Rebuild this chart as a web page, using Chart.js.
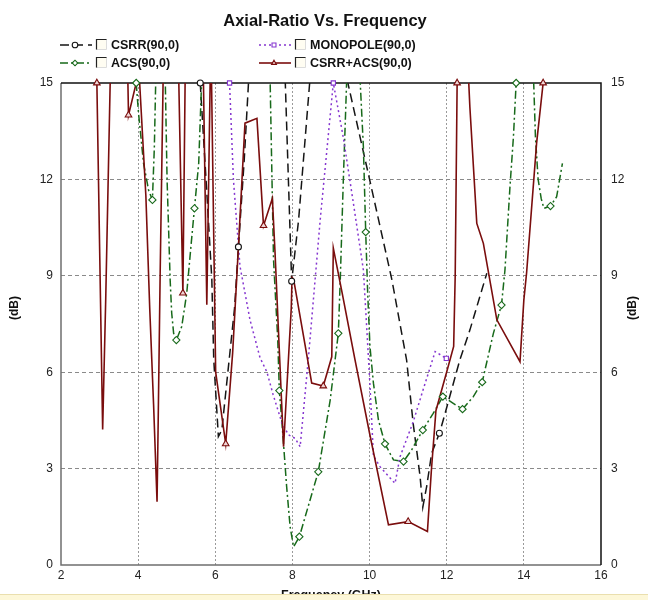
<!DOCTYPE html>
<html><head><meta charset="utf-8">
<script src="https://cdn.jsdelivr.net/npm/chart.js@4.4.0/dist/chart.umd.min.js"></script>
<style>html,body{margin:0;padding:0;background:#fff;}#wrap{width:648px;height:600px;position:relative;}</style>
</head><body><div id="wrap"><canvas id="c" width="648" height="600"></canvas></div>
<script>
// ---------------- data (frequency in GHz, axial ratio in dB) ----------------
const xTicks = [2, 4, 6, 8, 10, 12, 14, 16];
const yTicks = [0, 3, 6, 9, 12, 15];

const csrrFreq = [5.61, 5.78, 5.91, 5.96, 6.08, 6.17, 6.30, 6.50, 6.60, 6.75, 6.87, 7.30, 7.81, 7.98, 8.16, 8.46, 8.90, 9.40, 10.00, 10.58, 10.96, 11.13, 11.31, 11.38, 11.48, 11.61, 11.81, 11.91, 12.34, 12.60, 13.04];
const csrrAR   = [15.0, 11.6, 8.9, 6.4, 4.0, 4.2, 5.7, 8.0, 9.9, 12.6, 15.2, 17.0, 15.2, 8.83, 10.74, 15.2, 17.0, 15.2, 12.0, 8.87, 6.38, 4.41, 2.75, 1.8, 2.44, 3.48, 4.1, 4.51, 6.38, 7.31, 9.08];
const csrrMarks = [5.61, 6.60, 7.98, 11.81];

const monoFreq = [6.37, 6.47, 6.64, 6.90, 7.16, 7.34, 7.50, 7.73, 7.90, 8.07, 8.20, 8.41, 8.72, 9.06, 9.32, 9.58, 9.84, 9.93, 10.01, 10.10, 10.27, 10.66, 10.79, 11.13, 11.40, 11.70, 11.99];
const monoAR   = [15.0, 12.0, 9.3, 7.63, 6.45, 6.0, 5.3, 4.41, 4.05, 3.94, 3.68, 6.38, 10.74, 15.0, 13.3, 11.26, 9.18, 7.3, 5.6, 3.4, 3.06, 2.54, 3.37, 4.45, 5.5, 6.64, 6.43];
const monoMarks = [6.37, 9.06, 11.99];

const acsFreq = [3.95, 4.01, 4.14, 4.27, 4.37, 4.42, 4.46, 4.58, 4.70, 4.75, 4.83, 4.87, 4.92, 4.99, 5.13, 5.26, 5.36, 5.46, 5.57, 5.65, 6.50, 7.42, 7.47, 7.51, 7.62, 7.66, 7.73, 7.85, 7.94, 8.03, 8.18, 8.67, 8.98, 9.19, 9.24, 9.32, 9.41, 9.58, 9.75, 9.84, 9.90, 9.95, 10.01, 10.10, 10.23, 10.40, 10.62, 10.88, 11.09, 11.38, 11.65, 11.90, 12.17, 12.41, 12.69, 12.92, 13.21, 13.42, 13.51, 13.64, 13.73, 13.80, 14.02, 14.25, 14.30, 14.37, 14.45, 14.52, 14.69, 14.85, 15.00];
const acsAR   = [15.0, 14.06, 12.5, 11.67, 11.36, 13.0, 15.3, 17.0, 15.3, 12.0, 8.87, 7.84, 7.21, 7.0, 7.42, 8.46, 9.8, 11.1, 12.5, 15.2, 18.0, 15.2, 12.0, 9.5, 7.0, 5.43, 4.41, 2.44, 1.19, 0.57, 0.88, 2.9, 5.14, 7.21, 8.87, 12.0, 15.2, 16.5, 15.2, 13.0, 10.36, 8.5, 6.8, 5.66, 4.51, 3.77, 3.27, 3.22, 3.58, 4.2, 4.72, 5.24, 5.03, 4.85, 5.24, 5.69, 7.21, 8.09, 9.18, 11.77, 13.33, 15.0, 17.0, 15.2, 13.33, 12.0, 11.4, 11.1, 11.17, 11.46, 12.5];
const acsMarks = [3.95, 4.37, 4.99, 5.46, 7.66, 8.18, 8.67, 9.19, 9.90, 10.40, 10.88, 11.38, 11.90, 12.41, 12.92, 13.42, 13.80, 14.69];

const comboFreq = [2.93, 3.08, 3.16, 3.28, 3.50, 3.73, 3.75, 3.95, 3.99, 4.03, 4.20, 4.30, 4.40, 4.49, 4.52, 4.57, 4.65, 4.85, 5.05, 5.16, 5.22, 5.45, 5.69, 5.78, 5.87, 5.90, 6.01, 6.27, 6.45, 6.60, 6.77, 7.08, 7.25, 7.48, 7.55, 7.63, 7.77, 7.97, 7.99, 8.03, 8.50, 8.80, 9.02, 9.06, 9.30, 9.62, 10.00, 10.49, 11.00, 11.50, 11.60, 11.72, 11.99, 12.18, 12.22, 12.27, 12.40, 12.56, 12.60, 12.78, 12.95, 13.30, 13.90, 14.00, 14.07, 14.33, 14.50];
const comboAR   = [15.0, 4.22, 8.3, 15.3, 17, 15.3, 14.0, 15.0, 15.3, 15.2, 11.5, 8.0, 5.0, 1.97, 4.5, 9.0, 15.3, 18, 15.3, 8.46, 15.3, 18, 15.3, 8.1, 15.3, 15.3, 6.0, 3.77, 6.6, 9.9, 13.75, 13.9, 10.56, 11.41, 9.7, 7.5, 3.68, 8.0, 8.95, 8.9, 5.66, 5.57, 6.48, 9.86, 8.4, 6.4, 4.1, 1.25, 1.35, 1.04, 2.9, 4.8, 5.97, 6.8, 9.0, 15.0, 17, 15.3, 14.26, 10.63, 10.01, 7.63, 6.33, 8.25, 9.08, 13.12, 15.0];
const comboMarks = [2.93, 3.75, 5.16, 6.27, 7.25, 8.80, 11.00, 12.27, 14.50];

const seriesNames = ['CSRR(90,0)', 'ACS(90,0)', 'MONOPOLE(90,0)', 'CSRR+ACS(90,0)'];
const yMax = 15;

// ---------------- helpers ----------------
const FONT = "'Liberation Sans', Arial, sans-serif";
function pts(xs, ys) { return xs.map((x, i) => ({ x: x, y: ys[i] })); }
function markPts(xs, ys, marks) {
  return marks.map(m => { const i = xs.indexOf(m); return { x: m, y: Math.min(ys[i], yMax) }; });
}

const styles = [
  { color: '#151515', dash: [9, 5], width: 1.5, point: 'circle', r: 3, fill: '#ffffff' },
  { color: '#17691a', dash: [8, 3, 2, 3], width: 1.5, point: 'rectRot', r: 3.6, fill: '#ffffff' },
  { color: '#8536d0', dash: [2, 3], width: 1.5, point: 'rect', r: 3, fill: '#ffffff' },
  { color: '#7a0d0d', dash: [], width: 1.6, point: 'triangle', r: 3.8, fill: '#f0d6d6' }
];
const sets = [
  [csrrFreq, csrrAR, csrrMarks],
  [acsFreq, acsAR, acsMarks],
  [monoFreq, monoAR, monoMarks],
  [comboFreq, comboAR, comboMarks]
];

const datasets = [];
sets.forEach((s, k) => {
  const st = styles[k];
  datasets.push({
    label: seriesNames[k], data: pts(s[0], s[1]), borderColor: st.color, borderWidth: st.width,
    borderDash: st.dash, pointRadius: 0, tension: 0, fill: false, clip: 0, yAxisID: 'y', order: 10 - k
  });
});
sets.forEach((s, k) => {
  const st = styles[k];
  datasets.push({
    label: seriesNames[k] + ' markers', data: markPts(s[0], s[1], s[2]), showLine: false,
    pointStyle: st.point, pointRadius: st.r, pointBorderColor: st.color, pointBackgroundColor: st.fill,
    pointBorderWidth: 1.1, clip: false, yAxisID: 'y', order: 1
  });
});

// ---------------- decoration plugin ----------------
const decor = {
  id: 'decor',
  beforeDatasetsDraw(chart) {
    const { ctx, chartArea: a } = chart;
    ctx.save();
    ctx.setLineDash([]);
    ctx.lineWidth = 1.5;
    ctx.strokeStyle = '#6f6f6f';
    ctx.beginPath(); ctx.moveTo(a.left, a.top); ctx.lineTo(a.left, a.bottom); ctx.lineTo(a.right, a.bottom); ctx.stroke();
    ctx.strokeStyle = '#111';
    ctx.beginPath(); ctx.moveTo(a.left, a.top); ctx.lineTo(a.right, a.top); ctx.lineTo(a.right, a.bottom); ctx.stroke();
    ctx.restore();
  },
  afterDraw(chart) {
    const { ctx, chartArea: a } = chart;
    ctx.save();
    // title
    ctx.fillStyle = '#111';
    ctx.font = 'bold 16.5px ' + FONT;
    ctx.textAlign = 'center'; ctx.textBaseline = 'alphabetic';
    ctx.fillText('Axial-Ratio Vs. Frequency', 325, 26);
    // legend
    const cols = [60, 259];
    const rows = [45, 63];
    const order = [[0, 0, 0], [1, 0, 1], [2, 1, 0], [3, 1, 1]];
    order.forEach(([k, c, r]) => {
      const st = styles[k];
      const x0 = cols[c], y = rows[r];
      ctx.setLineDash(st.dash);
      ctx.strokeStyle = st.color; ctx.lineWidth = st.width;
      ctx.beginPath(); ctx.moveTo(x0, y); ctx.lineTo(x0 + 32, y); ctx.stroke();
      ctx.setLineDash([]);
      ctx.fillStyle = st.fill; ctx.strokeStyle = st.color; ctx.lineWidth = 1.1;
      Chart.helpers.drawPoint(ctx, { pointStyle: st.point, radius: 2.8, borderWidth: 1.1, rotation: 0 }, x0 + 15, y);
      // checkbox
      const bx = x0 + 36, by = y - 6;
      ctx.fillStyle = '#fffdf2'; ctx.fillRect(bx, by, 11, 11);
      ctx.strokeStyle = '#dcdcdc'; ctx.lineWidth = 1;
      ctx.beginPath(); ctx.moveTo(bx + 10.5, by); ctx.lineTo(bx + 10.5, by + 10.5); ctx.lineTo(bx, by + 10.5); ctx.stroke();
      ctx.strokeStyle = '#222'; ctx.lineWidth = 1.2;
      ctx.beginPath(); ctx.moveTo(bx + 0.5, by + 10.5); ctx.lineTo(bx + 0.5, by + 0.5); ctx.lineTo(bx + 10.5, by + 0.5); ctx.stroke();
      ctx.fillStyle = '#111';
      ctx.font = 'bold 12.5px ' + FONT;
      ctx.textAlign = 'left'; ctx.textBaseline = 'middle';
      ctx.fillText(seriesNames[k], x0 + 51, y + 0.5);
    });
    // (dB) axis titles
    ctx.font = 'bold 12px ' + FONT;
    ctx.textAlign = 'center'; ctx.textBaseline = 'middle';
    [15, 633].forEach(x => {
      ctx.save(); ctx.translate(x, 308); ctx.rotate(-Math.PI / 2); ctx.fillText('(dB)', 0, 0); ctx.restore();
    });
    // x title
    ctx.font = 'bold 12.5px ' + FONT;
    ctx.textAlign = 'center'; ctx.textBaseline = 'alphabetic';
    ctx.fillText('Frequency (GHz)', (a.left + a.right) / 2, 599);
    // bottom strip
    ctx.fillStyle = '#fdf7d8'; ctx.fillRect(0, 594, 648, 6);
    ctx.strokeStyle = '#eadfae'; ctx.lineWidth = 1;
    ctx.beginPath(); ctx.moveTo(0, 594.5); ctx.lineTo(648, 594.5); ctx.stroke();
    ctx.restore();
  }
};

const tickFont = { family: FONT, size: 12 };
new Chart(document.getElementById('c'), {
  type: 'line',
  data: { datasets: datasets },
  options: {
    responsive: false, animation: false, devicePixelRatio: 1,
    layout: { padding: { top: 83, left: 0, right: 0, bottom: 0 } },
    plugins: { legend: { display: false }, title: { display: false }, tooltip: { enabled: false } },
    scales: {
      x: {
        type: 'linear', min: xTicks[0], max: xTicks[xTicks.length - 1],
        afterBuildTicks: s => { s.ticks = xTicks.map(v => ({ value: v })); },
        ticks: { font: tickFont, color: '#222', padding: 3, maxRotation: 0, autoSkip: false },
        grid: { color: c => (c.tick && (c.tick.value === 2 || c.tick.value === 16)) ? 'rgba(0,0,0,0)' : '#9a9a9a', lineWidth: 1, drawTicks: false },
        border: { display: false, dash: [2, 2] },
        afterFit: s => { s.height = 35; }
      },
      y: {
        position: 'left', min: 0, max: yMax,
        afterBuildTicks: s => { s.ticks = yTicks.map(v => ({ value: v })); },
        ticks: { font: tickFont, color: '#222', padding: 8 },
        grid: { color: c => (c.tick && (c.tick.value === 0 || c.tick.value === 15)) ? 'rgba(0,0,0,0)' : '#8a8a8a', lineWidth: 1, drawTicks: false },
        border: { display: false, dash: [4, 3] },
        afterFit: s => { s.width = 61; }
      },
      y2: {
        position: 'right', min: 0, max: yMax,
        afterBuildTicks: s => { s.ticks = yTicks.map(v => ({ value: v })); },
        ticks: { font: tickFont, color: '#222', padding: 10 },
        grid: { display: false, drawTicks: false },
        border: { display: false },
        afterFit: s => { s.width = 47; }
      }
    }
  },
  plugins: [decor]
});
</script>
</body></html>
